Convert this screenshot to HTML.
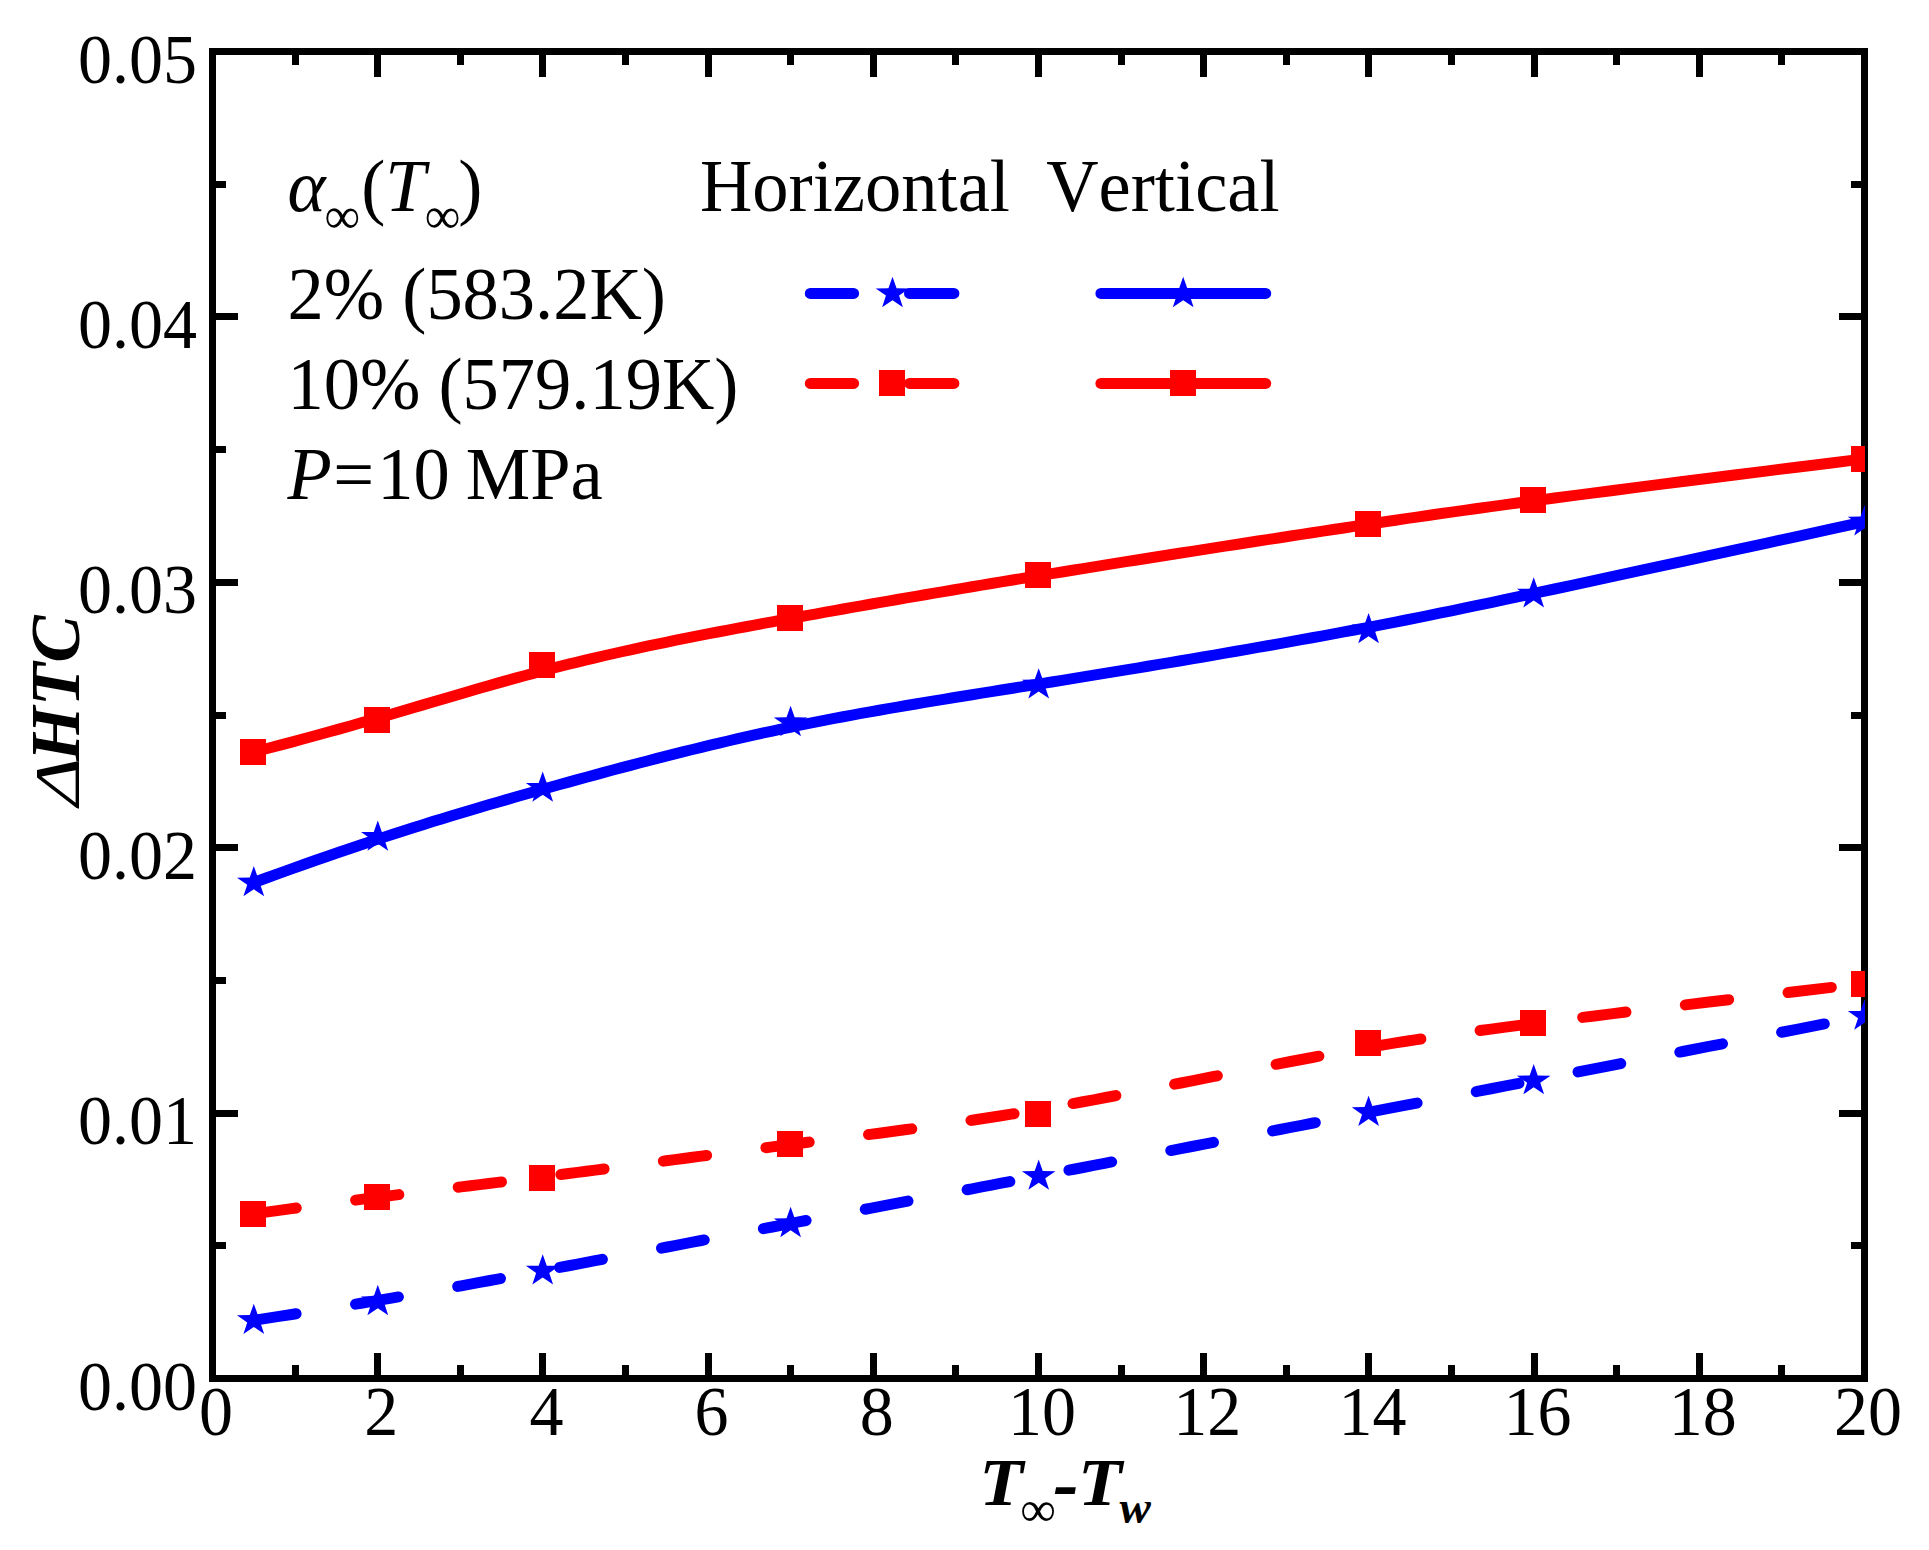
<!DOCTYPE html>
<html lang="en"><head><meta charset="utf-8"><title>Delta HTC vs wall subcooling</title>
<style>
html,body{margin:0;padding:0;background:#fff;}
body{width:1929px;height:1550px;overflow:hidden;}
svg{display:block;}
text{font-family:"Liberation Serif",serif;fill:#000;font-kerning:none;font-variant-ligatures:none;white-space:pre;}
.tk{font-size:68px;}
.lg{font-size:72.5px;}
.ax{font-size:68px;font-weight:bold;font-style:italic;}
.it{font-style:italic;}
.sub{font-style:normal;font-weight:normal;}
</style></head><body>
<svg width="1929" height="1550" viewBox="0 0 1929 1550">
<rect width="1929" height="1550" fill="#fff"/>
<g stroke="#000" stroke-width="7" fill="none" shape-rendering="crispEdges">
<rect x="212.5" y="51.5" width="1652" height="1327"/>
<path d="M295.1 1378.5 v-13.5 M295.1 51.5 v13.5 M377.7 1378.5 v-25.6 M377.7 51.5 v25.6 M460.3 1378.5 v-13.5 M460.3 51.5 v13.5 M542.9 1378.5 v-25.6 M542.9 51.5 v25.6 M625.5 1378.5 v-13.5 M625.5 51.5 v13.5 M708.1 1378.5 v-25.6 M708.1 51.5 v25.6 M790.7 1378.5 v-13.5 M790.7 51.5 v13.5 M873.3 1378.5 v-25.6 M873.3 51.5 v25.6 M955.9 1378.5 v-13.5 M955.9 51.5 v13.5 M1038.5 1378.5 v-25.6 M1038.5 51.5 v25.6 M1121.1 1378.5 v-13.5 M1121.1 51.5 v13.5 M1203.7 1378.5 v-25.6 M1203.7 51.5 v25.6 M1286.3 1378.5 v-13.5 M1286.3 51.5 v13.5 M1368.9 1378.5 v-25.6 M1368.9 51.5 v25.6 M1451.5 1378.5 v-13.5 M1451.5 51.5 v13.5 M1534.1 1378.5 v-25.6 M1534.1 51.5 v25.6 M1616.7 1378.5 v-13.5 M1616.7 51.5 v13.5 M1699.3 1378.5 v-25.6 M1699.3 51.5 v25.6 M1781.9 1378.5 v-13.5 M1781.9 51.5 v13.5 M212.5 1245.8 h13.5 M1864.5 1245.8 h-13.5 M212.5 1113.1 h25.6 M1864.5 1113.1 h-25.6 M212.5 980.4 h13.5 M1864.5 980.4 h-13.5 M212.5 847.7 h25.6 M1864.5 847.7 h-25.6 M212.5 715 h13.5 M1864.5 715 h-13.5 M212.5 582.3 h25.6 M1864.5 582.3 h-25.6 M212.5 449.6 h13.5 M1864.5 449.6 h-13.5 M212.5 316.9 h25.6 M1864.5 316.9 h-25.6 M212.5 184.2 h13.5 M1864.5 184.2 h-13.5"/>
</g>
<g class="tk" text-anchor="end">
<text transform="translate(197 1409.5) scale(1 1.04)">0.00</text>
<text transform="translate(197 1144.1) scale(1 1.04)">0.01</text>
<text transform="translate(197 878.7) scale(1 1.04)">0.02</text>
<text transform="translate(197 613.3) scale(1 1.04)">0.03</text>
<text transform="translate(197 347.9) scale(1 1.04)">0.04</text>
<text transform="translate(197 82.5) scale(1 1.04)">0.05</text>
</g>
<g class="tk" text-anchor="middle">
<text transform="translate(216 1435) scale(1 1.04)">0</text>
<text transform="translate(381.2 1435) scale(1 1.04)">2</text>
<text transform="translate(546.4 1435) scale(1 1.04)">4</text>
<text transform="translate(711.6 1435) scale(1 1.04)">6</text>
<text transform="translate(876.8 1435) scale(1 1.04)">8</text>
<text transform="translate(1042 1435) scale(1 1.04)">10</text>
<text transform="translate(1207.2 1435) scale(1 1.04)">12</text>
<text transform="translate(1372.4 1435) scale(1 1.04)">14</text>
<text transform="translate(1537.6 1435) scale(1 1.04)">16</text>
<text transform="translate(1702.8 1435) scale(1 1.04)">18</text>
<text transform="translate(1868 1435) scale(1 1.04)">20</text>
</g>
<g class="ax">
<text transform="translate(979.2 1505) scale(1.06 1)">T</text>
<text class="sub" font-size="50" x="1020.2" y="1525.5">∞</text>
<text transform="translate(1053.2 1509) scale(1.12 1.15)">-</text>
<text transform="translate(1078.1 1505) scale(1.06 1)">T</text>
<text font-size="47" x="1119.4" y="1522.5">w</text>
<text font-weight="normal" transform="translate(78.9 806.1) rotate(-90) scale(1.207 0.918)">Δ</text>
<text transform="translate(78.7 761.5) rotate(-90) scale(1.045 1.03)">HTC</text>
</g>
<defs><clipPath id="plotclip"><rect x="212.5" y="51.5" width="1652.5" height="1327"/></clipPath></defs>
<g clip-path="url(#plotclip)">
<g fill="none" stroke-width="11" stroke-linecap="round" stroke-linejoin="round">
<polyline stroke="#0000ff" stroke-dasharray="43.5 60.2" points="253.1,1320.4 266.23,1318.4 279.05,1316.42 291.58,1314.47 303.82,1312.55 315.79,1310.64 327.5,1308.76 338.96,1306.9 350.18,1305.06 361.18,1303.23 371.95,1301.43 382.53,1299.64 392.91,1297.86 403.11,1296.1 413.14,1294.36 423.01,1292.62 432.74,1290.9 442.33,1289.19 451.79,1287.49 461.14,1285.79 470.39,1284.1 479.55,1282.42 488.63,1280.75 497.64,1279.08 506.6,1277.41 515.51,1275.74 524.39,1274.08 533.25,1272.42 542.09,1270.75 550.94,1269.08 559.78,1267.41 568.63,1265.74 577.47,1264.07 586.32,1262.4 595.17,1260.72 604.01,1259.04 612.86,1257.37 621.71,1255.69 630.56,1254.01 639.41,1252.32 648.26,1250.64 657.11,1248.96 665.97,1247.27 674.82,1245.58 683.67,1243.9 692.52,1242.21 701.38,1240.52 710.23,1238.83 719.09,1237.14 727.94,1235.45 736.8,1233.76 745.65,1232.07 754.51,1230.38 763.36,1228.69 772.22,1227 781.08,1225.31 789.93,1223.62 798.79,1221.93 807.65,1220.23 816.52,1218.54 825.4,1216.85 834.3,1215.15 843.21,1213.45 852.15,1211.74 861.12,1210.03 870.11,1208.31 879.14,1206.59 888.2,1204.85 897.31,1203.11 906.46,1201.36 915.66,1199.61 924.91,1197.84 934.22,1196.06 943.59,1194.26 953.02,1192.46 962.51,1190.64 972.08,1188.81 981.73,1186.96 991.45,1185.09 1001.25,1183.21 1011.14,1181.31 1021.12,1179.4 1031.19,1177.46 1041.36,1175.51 1051.63,1173.53 1062.01,1171.54 1072.47,1169.52 1083.03,1167.49 1093.67,1165.44 1104.39,1163.37 1115.17,1161.29 1126.01,1159.2 1136.91,1157.1 1147.84,1154.99 1158.82,1152.87 1169.82,1150.74 1180.85,1148.61 1191.89,1146.48 1202.94,1144.35 1213.99,1142.21 1225.03,1140.08 1236.06,1137.95 1247.06,1135.83 1258.03,1133.71 1268.97,1131.59 1279.85,1129.49 1290.69,1127.4 1301.47,1125.32 1312.18,1123.25 1322.81,1121.2 1333.37,1119.17 1343.83,1117.15 1354.19,1115.15 1364.46,1113.17 1374.7,1111.2 1384.98,1109.22 1395.37,1107.22 1405.94,1105.18 1416.76,1103.1 1427.91,1100.95 1439.45,1098.72 1451.47,1096.4 1464.02,1093.98 1477.18,1091.44 1491.03,1088.76 1505.63,1085.93 1521.06,1082.94 1537.38,1079.78 1554.67,1076.43 1573.01,1072.87 1592.46,1069.09 1613.09,1065.08 1634.98,1060.82 1658.2,1056.31 1682.81,1051.51 1708.9,1046.43 1736.53,1041.05 1765.77,1035.35 1796.7,1029.31 1829.38,1022.94 1863.9,1016.2"/>
<polyline stroke="#ff0000" stroke-dasharray="43.6 59.82" points="253.1,1214 266.23,1212.17 279.05,1210.39 291.58,1208.67 303.82,1207.01 315.79,1205.4 327.5,1203.83 338.96,1202.32 350.18,1200.85 361.18,1199.42 371.95,1198.02 382.53,1196.67 392.91,1195.35 403.11,1194.06 413.14,1192.81 423.01,1191.57 432.74,1190.37 442.33,1189.18 451.79,1188.02 461.14,1186.87 470.39,1185.73 479.55,1184.61 488.63,1183.5 497.64,1182.4 506.6,1181.3 515.51,1180.2 524.39,1179.1 533.25,1178 542.09,1176.89 550.94,1175.78 559.78,1174.66 568.63,1173.53 577.47,1172.4 586.32,1171.26 595.17,1170.11 604.01,1168.96 612.86,1167.81 621.71,1166.65 630.56,1165.49 639.41,1164.33 648.26,1163.16 657.11,1161.99 665.97,1160.82 674.82,1159.65 683.67,1158.48 692.52,1157.31 701.38,1156.14 710.23,1154.97 719.09,1153.8 727.94,1152.64 736.8,1151.48 745.65,1150.32 754.51,1149.16 763.36,1148.01 772.22,1146.86 781.08,1145.72 789.93,1144.58 798.79,1143.45 807.65,1142.32 816.52,1141.2 825.4,1140.07 834.3,1138.94 843.21,1137.81 852.15,1136.67 861.12,1135.52 870.11,1134.36 879.14,1133.19 888.2,1132 897.31,1130.79 906.46,1129.57 915.66,1128.32 924.91,1127.05 934.22,1125.75 943.59,1124.43 953.02,1123.07 962.51,1121.68 972.08,1120.26 981.73,1118.8 991.45,1117.3 1001.25,1115.77 1011.14,1114.18 1021.12,1112.56 1031.19,1110.88 1041.36,1109.16 1051.63,1107.38 1062.01,1105.56 1072.47,1103.68 1083.03,1101.75 1093.67,1099.79 1104.39,1097.78 1115.17,1095.74 1126.01,1093.67 1136.91,1091.58 1147.84,1089.46 1158.82,1087.32 1169.82,1085.16 1180.85,1082.99 1191.89,1080.82 1202.94,1078.64 1213.99,1076.46 1225.03,1074.29 1236.06,1072.12 1247.06,1069.96 1258.03,1067.82 1268.97,1065.69 1279.85,1063.59 1290.69,1061.52 1301.47,1059.48 1312.18,1057.47 1322.81,1055.49 1333.37,1053.56 1343.83,1051.68 1354.19,1049.84 1364.46,1048.06 1374.7,1046.31 1384.98,1044.61 1395.37,1042.92 1405.94,1041.25 1416.76,1039.58 1427.91,1037.9 1439.45,1036.21 1451.47,1034.49 1464.02,1032.74 1477.18,1030.94 1491.03,1029.08 1505.63,1027.15 1521.06,1025.15 1537.38,1023.06 1554.67,1020.88 1573.01,1018.58 1592.46,1016.18 1613.09,1013.64 1634.98,1010.97 1658.2,1008.15 1682.81,1005.18 1708.9,1002.04 1736.53,998.73 1765.77,995.22 1796.7,991.53 1829.38,987.62 1863.9,983.5"/>
<polyline stroke="#0000ff" points="253.1,882.8 266.23,877.99 279.05,873.34 291.58,868.85 303.82,864.49 315.79,860.28 327.5,856.2 338.96,852.25 350.18,848.42 361.18,844.71 371.95,841.12 382.53,837.63 392.91,834.24 403.11,830.95 413.14,827.75 423.01,824.64 432.74,821.61 442.33,818.65 451.79,815.76 461.14,812.94 470.39,810.17 479.55,807.46 488.63,804.8 497.64,802.17 506.6,799.59 515.51,797.04 524.39,794.51 533.25,792.01 542.09,789.52 550.94,787.04 559.78,784.57 568.63,782.11 577.47,779.67 586.32,777.24 595.17,774.83 604.01,772.43 612.86,770.05 621.71,767.68 630.56,765.33 639.41,763.01 648.26,760.7 657.11,758.41 665.97,756.15 674.82,753.9 683.67,751.69 692.52,749.49 701.38,747.32 710.23,745.18 719.09,743.07 727.94,740.98 736.8,738.93 745.65,736.9 754.51,734.9 763.36,732.94 772.22,731.01 781.08,729.11 789.93,727.25 798.79,725.42 807.65,723.63 816.52,721.87 825.4,720.13 834.3,718.43 843.21,716.75 852.15,715.09 861.12,713.46 870.11,711.84 879.14,710.24 888.2,708.65 897.31,707.08 906.46,705.52 915.66,703.97 924.91,702.42 934.22,700.88 943.59,699.34 953.02,697.8 962.51,696.26 972.08,694.72 981.73,693.17 991.45,691.61 1001.25,690.04 1011.14,688.46 1021.12,686.87 1031.19,685.26 1041.36,683.63 1051.63,681.98 1062.01,680.31 1072.47,678.62 1083.03,676.91 1093.67,675.18 1104.39,673.43 1115.17,671.66 1126.01,669.87 1136.91,668.07 1147.84,666.25 1158.82,664.42 1169.82,662.58 1180.85,660.72 1191.89,658.85 1202.94,656.97 1213.99,655.08 1225.03,653.18 1236.06,651.27 1247.06,649.35 1258.03,647.43 1268.97,645.5 1279.85,643.57 1290.69,641.63 1301.47,639.69 1312.18,637.75 1322.81,635.81 1333.37,633.86 1343.83,631.92 1354.19,629.97 1364.46,628.03 1374.7,626.08 1384.98,624.09 1395.37,622.07 1405.94,619.98 1416.76,617.82 1427.91,615.58 1439.45,613.23 1451.47,610.77 1464.02,608.18 1477.18,605.43 1491.03,602.53 1505.63,599.45 1521.06,596.18 1537.38,592.7 1554.67,589 1573.01,585.06 1592.46,580.87 1613.09,576.42 1634.98,571.69 1658.2,566.66 1682.81,561.31 1708.9,555.65 1736.53,549.64 1765.77,543.27 1796.7,536.54 1829.38,529.42 1863.9,521.9"/>
<polyline stroke="#ff0000" points="253.1,752.2 266.23,748.8 279.05,745.43 291.58,742.09 303.82,738.79 315.79,735.53 327.5,732.3 338.96,729.1 350.18,725.94 361.18,722.81 371.95,719.73 382.53,716.68 392.91,713.66 403.11,710.69 413.14,707.75 423.01,704.86 432.74,702 442.33,699.18 451.79,696.41 461.14,693.67 470.39,690.98 479.55,688.32 488.63,685.72 497.64,683.15 506.6,680.63 515.51,678.15 524.39,675.71 533.25,673.32 542.09,670.97 550.94,668.68 559.78,666.42 568.63,664.21 577.47,662.04 586.32,659.9 595.17,657.81 604.01,655.76 612.86,653.74 621.71,651.75 630.56,649.8 639.41,647.88 648.26,645.98 657.11,644.12 665.97,642.28 674.82,640.47 683.67,638.69 692.52,636.92 701.38,635.18 710.23,633.46 719.09,631.75 727.94,630.06 736.8,628.39 745.65,626.73 754.51,625.09 763.36,623.45 772.22,621.83 781.08,620.21 789.93,618.6 798.79,617 807.65,615.4 816.52,613.8 825.4,612.21 834.3,610.62 843.21,609.03 852.15,607.45 861.12,605.87 870.11,604.28 879.14,602.7 888.2,601.12 897.31,599.54 906.46,597.95 915.66,596.37 924.91,594.78 934.22,593.19 943.59,591.59 953.02,589.99 962.51,588.39 972.08,586.78 981.73,585.16 991.45,583.54 1001.25,581.91 1011.14,580.27 1021.12,578.62 1031.19,576.97 1041.36,575.31 1051.63,573.63 1062.01,571.95 1072.47,570.26 1083.03,568.56 1093.67,566.85 1104.39,565.13 1115.17,563.41 1126.01,561.69 1136.91,559.96 1147.84,558.23 1158.82,556.5 1169.82,554.77 1180.85,553.04 1191.89,551.31 1202.94,549.59 1213.99,547.87 1225.03,546.16 1236.06,544.45 1247.06,542.75 1258.03,541.06 1268.97,539.38 1279.85,537.7 1290.69,536.05 1301.47,534.4 1312.18,532.77 1322.81,531.15 1333.37,529.54 1343.83,527.96 1354.19,526.39 1364.46,524.84 1374.7,523.3 1384.98,521.76 1395.37,520.22 1405.94,518.66 1416.76,517.08 1427.91,515.46 1439.45,513.81 1451.47,512.1 1464.02,510.34 1477.18,508.51 1491.03,506.6 1505.63,504.61 1521.06,502.53 1537.38,500.35 1554.67,498.06 1573.01,495.65 1592.46,493.11 1613.09,490.44 1634.98,487.62 1658.2,484.66 1682.81,481.53 1708.9,478.23 1736.53,474.75 1765.77,471.09 1796.7,467.23 1829.38,463.17 1863.9,458.9"/>
</g>
<g fill="#0000ff">
<polygon points="253.8,1303.66 257.85,1315.12 270.61,1315.23 260.36,1322.42 264.19,1333.95 253.8,1326.93 243.41,1333.95 247.24,1322.42 236.99,1315.23 249.75,1315.12"/>
<polygon points="377.8,1284.86 381.85,1296.32 394.61,1296.43 384.36,1303.62 388.19,1315.15 377.8,1308.13 367.41,1315.15 371.24,1303.62 360.99,1296.43 373.75,1296.32"/>
<polygon points="542.7,1254.26 546.75,1265.72 559.51,1265.83 549.26,1273.02 553.09,1284.55 542.7,1277.53 532.31,1284.55 536.14,1273.02 525.89,1265.83 538.65,1265.72"/>
<polygon points="790.6,1206.86 794.65,1218.32 807.41,1218.43 797.16,1225.62 800.99,1237.15 790.6,1230.13 780.21,1237.15 784.04,1225.62 773.79,1218.43 786.55,1218.32"/>
<polygon points="1038.7,1159.56 1042.75,1171.02 1055.51,1171.13 1045.26,1178.32 1049.09,1189.85 1038.7,1182.83 1028.31,1189.85 1032.14,1178.32 1021.89,1171.13 1034.65,1171.02"/>
<polygon points="1368.6,1095.66 1372.65,1107.12 1385.41,1107.23 1375.16,1114.42 1378.99,1125.95 1368.6,1118.93 1358.21,1125.95 1362.04,1114.42 1351.79,1107.23 1364.55,1107.12"/>
<polygon points="1533.7,1064.06 1537.75,1075.52 1550.51,1075.63 1540.26,1082.82 1544.09,1094.35 1533.7,1087.33 1523.31,1094.35 1527.14,1082.82 1516.89,1075.63 1529.65,1075.52"/>
<polygon points="1864.6,999.46 1868.65,1010.92 1881.41,1011.03 1871.16,1018.22 1874.99,1029.75 1864.6,1022.73 1854.21,1029.75 1858.04,1018.22 1847.79,1011.03 1860.55,1010.92"/>
<polygon points="253.8,866.05 257.85,877.52 270.61,877.63 260.36,884.82 264.19,896.35 253.8,889.33 243.41,896.35 247.24,884.82 236.99,877.63 249.75,877.52"/>
<polygon points="377.8,820.46 381.85,831.92 394.61,832.03 384.36,839.22 388.19,850.75 377.8,843.73 367.41,850.75 371.24,839.22 360.99,832.03 373.75,831.92"/>
<polygon points="542.7,771.46 546.75,782.92 559.51,783.03 549.26,790.22 553.09,801.75 542.7,794.73 532.31,801.75 536.14,790.22 525.89,783.03 538.65,782.92"/>
<polygon points="790.6,705.86 794.65,717.32 807.41,717.43 797.16,724.62 800.99,736.15 790.6,729.13 780.21,736.15 784.04,724.62 773.79,717.43 786.55,717.32"/>
<polygon points="1038.7,668.15 1042.75,679.62 1055.51,679.73 1045.26,686.92 1049.09,698.45 1038.7,691.43 1028.31,698.45 1032.14,686.92 1021.89,679.73 1034.65,679.62"/>
<polygon points="1368.6,612.96 1372.65,624.42 1385.41,624.53 1375.16,631.72 1378.99,643.25 1368.6,636.23 1358.21,643.25 1362.04,631.72 1351.79,624.53 1364.55,624.42"/>
<polygon points="1533.7,577.25 1537.75,588.72 1550.51,588.83 1540.26,596.02 1544.09,607.55 1533.7,600.53 1523.31,607.55 1527.14,596.02 1516.89,588.83 1529.65,588.72"/>
<polygon points="1864.6,505.15 1868.65,516.62 1881.41,516.73 1871.16,523.92 1874.99,535.45 1864.6,528.43 1854.21,535.45 1858.04,523.92 1847.79,516.73 1860.55,516.62"/>
</g>
<g fill="#ff0000" shape-rendering="crispEdges">
<rect x="240.1" y="1201" width="26" height="26"/>
<rect x="364.1" y="1183.6" width="26" height="26"/>
<rect x="529" y="1164.9" width="26" height="26"/>
<rect x="776.9" y="1130.8" width="26" height="26"/>
<rect x="1025" y="1101.4" width="26" height="26"/>
<rect x="1354.9" y="1029.9" width="26" height="26"/>
<rect x="1520" y="1010" width="26" height="26"/>
<rect x="1850.9" y="970.5" width="26" height="26"/>
<rect x="240.1" y="739.2" width="26" height="26"/>
<rect x="364.1" y="707.3" width="26" height="26"/>
<rect x="529" y="652" width="26" height="26"/>
<rect x="776.9" y="604.9" width="26" height="26"/>
<rect x="1025" y="562" width="26" height="26"/>
<rect x="1354.9" y="510.9" width="26" height="26"/>
<rect x="1520" y="486.8" width="26" height="26"/>
<rect x="1850.9" y="445.9" width="26" height="26"/>
</g>
</g>
<g class="lg">
<text xml:space="preserve" transform="translate(287.5 210.5) scale(1 1.03)"><tspan class="it">α</tspan><tspan font-size="50" dx="-1" dy="21.5">∞</tspan><tspan dy="-21.5" dx="1">(</tspan><tspan class="it">T</tspan><tspan font-size="50" dx="-1" dy="21.5">∞</tspan><tspan dy="-21.5" dx="-2">)</tspan></text>
<text xml:space="preserve" transform="translate(700 210.5) scale(1 1.03)">Horizontal  Vertical</text>
<text xml:space="preserve" transform="translate(287.5 318.5) scale(1 1.03)">2% (583.2K)</text>
<text xml:space="preserve" transform="translate(287.5 408.5) scale(1 1.03)">10% (579.19K)</text>
<text xml:space="preserve" transform="translate(287.5 498.5) scale(1 1.03)"><tspan class="it">P</tspan><tspan dx="1.5">=</tspan><tspan dx="3">10</tspan><tspan dx="-2"> MPa</tspan></text>
</g>
<g fill="none" stroke-width="11" stroke-linecap="round">
<path stroke="#0000ff" stroke-dasharray="43.3 55.9 44.4 100" d="M810.3 293.4 H975.1"/>
<path stroke="#ff0000" stroke-dasharray="43.3 55.9 44.4 100" d="M810.3 383.4 H975.1"/>
<path stroke="#0000ff" d="M1100.9 293.4 H1265.7"/>
<path stroke="#ff0000" d="M1100.9 383.4 H1265.7"/>
</g>
<g fill="#0000ff"><polygon points="892.5,276.85 896.55,288.32 909.31,288.43 899.06,295.62 902.89,307.15 892.5,300.13 882.11,307.15 885.94,295.62 875.69,288.43 888.45,288.32"/><polygon points="1183.2,276.85 1187.25,288.32 1200.01,288.43 1189.76,295.62 1193.59,307.15 1183.2,300.13 1172.81,307.15 1176.64,295.62 1166.39,288.43 1179.15,288.32"/></g>
<g fill="#ff0000" shape-rendering="crispEdges"><rect x="879" y="370" width="26" height="26"/><rect x="1170.2" y="370" width="26" height="26"/></g>
</svg></body></html>
